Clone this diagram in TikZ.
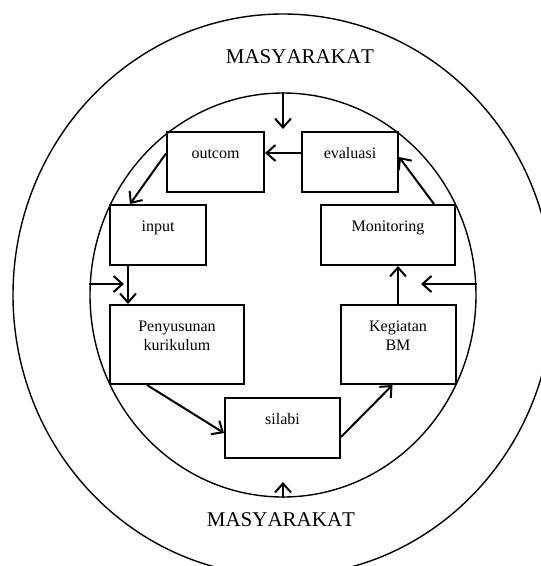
\documentclass[tikz,border=0pt]{standalone}
\usepackage{fontspec}
\setmainfont{Liberation Serif}
\newfontfamily\hurufjudul{Liberation Serif}[Kerning=Off]
\usetikzlibrary{arrows.meta,shapes.geometric}
% isi kotak: lebar, tinggi, teks (teks di bagian atas kotak)
\newcommand{\isikotak}[3]{\parbox[c][#2][t]{#1}{\centering\rule{0pt}{26pt}#3}}

\begin{document}
\begin{tikzpicture}[x=1pt,y=-1pt,
  kotak/.style={draw,line width=2pt,inner sep=0pt,font=\fontsize{16}{19}\selectfont},
  panah/.style={-{Straight Barb[length=9pt,width=16pt]},line width=2pt},
  lingkar/.style={draw,ellipse,line width=1.4pt,inner sep=0pt}]
\clip(0,0) rectangle (541,566);
%
\node(luar)[lingkar,minimum width=540pt,minimum height=562pt] at (283,295) {};
\node(dalam)[lingkar,minimum width=386pt,minimum height=404pt] at (283,295) {};
\node(judulatas)[font=\fontsize{21}{24}\hurufjudul] at (300,57) {MASYARAKAT};
\node(judulbawah)[font=\fontsize{21}{24}\hurufjudul] at (281,520) {MASYARAKAT};
%
\node(outcom)[kotak] at (215.5,162) {\isikotak{97pt}{60pt}{outcom}};
\node(evaluasi)[kotak] at (350,162) {\isikotak{96pt}{60pt}{evaluasi}};
\node(input)[kotak] at (158,235) {\isikotak{96pt}{60pt}{input}};
\node(monitoring)[kotak] at (388,235) {\isikotak{134pt}{60pt}{Monitoring}};
\node(penyusunan)[kotak] at (177,344.5) {\isikotak{134pt}{79pt}{Penyusunan\\kurikulum}};
\node(kegiatan)[kotak] at (398,344.5) {\isikotak{115pt}{79pt}{Kegiatan\\BM}};
\node(silabi)[kotak] at (282.5,428) {\isikotak{115pt}{60pt}{silabi}};
%
\coordinate(atas) at (283,129);
\coordinate(kiri) at (124,284);
\coordinate(kanan) at (421,284);
\coordinate(bawah) at (283,482);
%
\draw[panah](dalam.north)--(atas);
\draw[panah]([yshift=9pt]evaluasi.west)--([yshift=9pt]outcom.east);
\draw[panah]([yshift=8.5pt]outcom.west)--([xshift=21pt]input.north west);
\draw[panah]([xshift=19pt]input.south west)--([xshift=19pt]penyusunan.north west);
\draw[panah]([yshift=11pt]dalam.west)--(kiri);
\draw[panah]([xshift=38pt]penyusunan.south west)--([yshift=-5pt]silabi.west);
\draw[panah]([yshift=-9pt]silabi.east)--([xshift=53pt]kegiatan.south west);
\draw[panah](kegiatan.north)--(kegiatan.north |- monitoring.south);
\draw[panah]([yshift=11pt]dalam.east)--(kanan);
\draw[panah]([xshift=-22pt]monitoring.north east)--([yshift=5pt]evaluasi.east);
\draw[panah](dalam.south)--(bawah);
\end{tikzpicture}
\end{document}
